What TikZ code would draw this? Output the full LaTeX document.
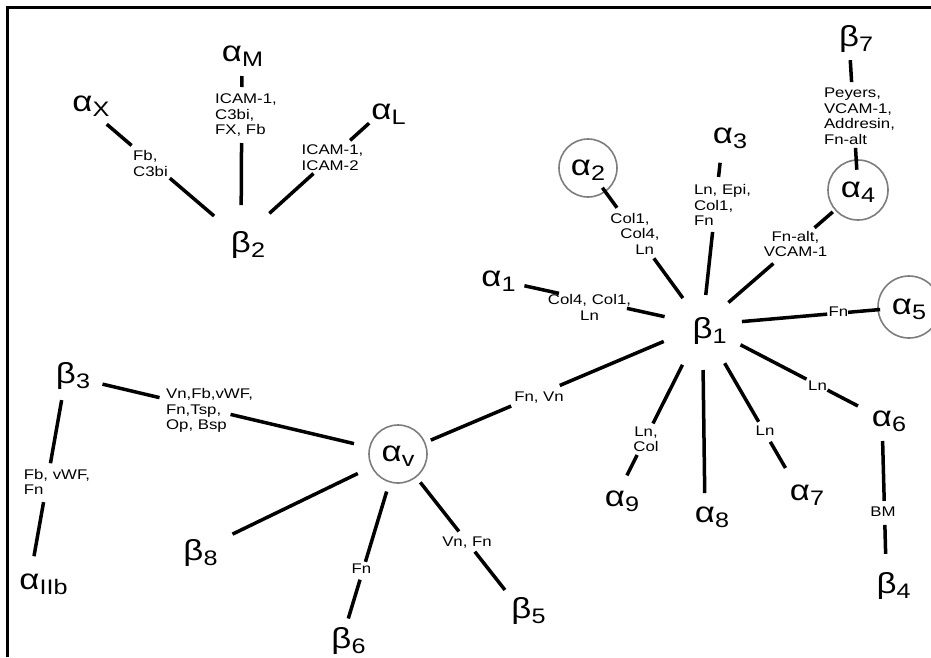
\documentclass[tikz,border=0pt]{standalone}
\usepackage{fontspec}
\usetikzlibrary{calc}
\newfontfamily\gkf[FakeStretch=1.2]{Liberation Sans}
\newcommand\gm[1]{{\gkf\fontsize{29}{30}\selectfont #1}}
\newcommand\gs[1]{\smash{\raisebox{-5pt}{\gkf\fontsize{21}{22}\selectfont #1}}}
\newcommand\gn[2]{\gm{#1}\rlap{\gs{#2}}}
\newcommand\gc[2]{\gm{#1}\gs{#2}}
\definecolor{circgray}{RGB}{125,125,125}
\begin{document}
\begin{tikzpicture}[x=1pt,y=-1pt,
  gk/.style={inner sep=0pt, outer sep=0pt},
  hub/.style={inner sep=0pt, outer sep=0pt, text height=33.4pt, text depth=6pt},
  circ/.style={circle, draw=circgray, line width=1.6pt, inner sep=0pt, minimum size=#1},
  lab/.style={inner sep=0pt, outer sep=0pt, font=\gkf\fontsize{14}{15.5}\selectfont, align=left},
  labc/.style={lab, align=center},
  conn/.style={line width=3.5pt},
  borderline/.style={line width=2.5pt}
]
\useasboundingbox (0,0) rectangle (931,657);
\fill[white] (0,0) rectangle (931,657);
\draw[borderline] (7.5,657) -- (7.5,7.5) -- (931,7.5);

% Greek nodes
\node[gk] (aX) at (82.5,103.5) {\gn{α}{X}};
\node[gk] (aM) at (232,53.5) {\gn{α}{M}};
\node[gk] (aL) at (381.5,112) {\gn{α}{L}};
\node[hub] (b2) at (241,239) {\gn{β}{2}};
\node[gk] (b7) at (849,38.5) {\gn{β}{7}};
\node[circ=60pt] (a4) at (858,190) {\gc{α}{4}};
\node[gk] (a3) at (723,136) {\gn{α}{3}};
\node[circ=58pt] (a2) at (588,168) {\gc{α}{2}};
\node[gk] (a1) at (491.5,278.5) {\gn{α}{1}};
\node[circ=62pt] (a5) at (909,307) {\gc{α}{5}};
\node[hub] (b1) at (702.5,325) {\gn{β}{1}};
\node[gk] (b3) at (66,375.5) {\gn{β}{3}};
\node[circ=58pt] (av) at (398,454) {\gc{α}{v}};
\node[gk] (aIIb) at (29.5,581.5) {\gn{α}{IIb}};
\node[gk] (b8) at (193.5,553) {\gn{β}{8}};
\node[gk] (b6) at (341.5,641) {\gn{β}{6}};
\node[gk] (b5) at (521.5,611) {\gn{β}{5}};
\node[gk] (a9) at (615,499) {\gn{α}{9}};
\node[gk] (a8) at (705,514.5) {\gn{α}{8}};
\node[gk] (a7) at (800,493) {\gn{α}{7}};
\node[gk] (a6) at (882,418.5) {\gn{α}{6}};
\node[gk] (b4) at (886.5,586) {\gn{β}{4}};

% ligand labels
\node[lab] (lXb2) at (150.5,163.5) {Fb,\\C3bi};
\node[lab] (lMb2) at (246,115.5) {ICAM-1,\\C3bi,\\FX, Fb};
\node[lab] (lLb2) at (332.5,157.5) {ICAM-1,\\ICAM-2};
\node[lab] (l74) at (859.5,116) {Peyers,\\VCAM-1,\\Addresin,\\Fn-alt};
\node[lab] (l31) at (722.5,205) {Ln, Epi,\\Col1,\\Fn};
\node[lab] (l21) at (635,233.5) {Col1,\\\hspace*{10pt}Col4,\\\hspace*{25pt}Ln};
\node[labc] (l11) at (589.5,307.5) {Col4, Col1,\\Ln};
\node[labc] (l41) at (795.5,244) {Fn-alt,\\VCAM-1};
\node[lab] (l51) at (838.5,312) {Fn};
\node[lab] (l3v) at (209.5,410.5) {Vn,Fb,vWF,\\Fn,Tsp,\\Op, Bsp};
\node[lab] (l3IIb) at (57,482) {Fb, vWF,\\Fn};
\node[lab] (lv6) at (361.5,569) {Fn};
\node[lab] (lv5) at (467,543) {Vn, Fn};
\node[lab] (lv1) at (539,397.5) {Fn, Vn};
\node[labc] (l19) at (646,439) {Ln,\\Col};
\node[lab] (l17) at (765,431) {Ln};
\node[lab] (l16) at (817.5,385.5) {Ln};
\node[lab] (l64) at (883,512) {BM};

% connectors
\draw[conn] ($(aX)!31.9pt!(b2)$) -- ($(aX)!64.6pt!(b2)$);
\draw[conn] ($(aX)!114.9pt!(b2)$) -- ($(b2)!35.4pt!(aX)$);
\draw[conn] ($(aM.east)!22.5pt!(b2)$) -- ($(aM.east)!33.5pt!(b2)$);
\draw[conn] ($(aM.east)!89.5pt!(b2)$) -- ($(b2)!34pt!(aM.east)$);
\draw[conn] ($(aL)!16.7pt!(b2)$) -- ($(aL)!42.3pt!(b2)$);
\draw[conn] ($(aL)!91.7pt!(b2)$) -- ($(b2)!38.2pt!(aL)$);
\draw[conn] ($(b7)!21.7pt!(a4)$) -- ($(b7)!43.7pt!(a4)$);
\draw[conn] ($(b7)!109.6pt!(a4)$) -- ($(a4)!20.3pt!(b7)$);
\draw[conn] ($(a4)!33.4pt!(b1)$) -- ($(a4)!57.6pt!(b1)$);
\draw[conn] ($(a4)!112.1pt!(b1)$) -- ($(b1)!34.3pt!(a4)$);
\draw[conn] ($(a3)!26.9pt!(b1)$) -- ($(a3)!41.2pt!(b1)$);
\draw[conn] ($(a3)!96.5pt!(b1)$) -- ($(b1)!30.2pt!(a3)$);
\draw[conn] ($(a2)!24.4pt!(b1)$) -- ($(a2)!49.2pt!(b1)$);
\draw[conn] ($(a2)!111.8pt!(b1)$) -- ($(b1)!33.3pt!(a2)$);
\draw[conn] ($(a1)!33.7pt!(b1)$) -- ($(a1)!69.1pt!(b1)$);
\draw[conn] ($(a1)!138.7pt!(b1)$) -- ($(b1)!38.8pt!(a1)$);
\draw[conn] ($(b1)!39.6pt!(a5)$) -- ($(b1)!125.2pt!(a5)$);
\draw[conn] ($(b1)!146.1pt!(a5)$) -- ($(a5)!29pt!(b1)$);
\draw[conn] ($(b1)!45pt!(a8)$) -- ($(a8)!21.5pt!(b1)$);
\draw[conn] ($(b1)!44.5pt!(a9)$) -- ($(b1)!110.2pt!(a9)$);
\draw[conn] ($(b1)!145.5pt!(a9)$) -- ($(a9)!26.5pt!(b1)$);
\draw[conn] ($(b1)!44.2pt!(a7)$) -- ($(b1)!111.9pt!(a7)$);
\draw[conn] ($(b1)!135.1pt!(a7)$) -- ($(a7)!28.9pt!(b1)$);
\draw[conn] ($(b1)!42.9pt!(a6)$) -- ($(b1)!117.2pt!(a6)$);
\draw[conn] ($(b1)!140.9pt!(a6)$) -- ($(a6)!27.1pt!(b1)$);
\draw[conn] ($(av)!35.6pt!(b1)$) -- ($(av)!122.9pt!(b1)$);
\draw[conn] ($(av)!175.7pt!(b1)$) -- ($(b1)!42.1pt!(av)$);
\draw[conn] ($(b3)!37.5pt!(av)$) -- ($(b3)!96.1pt!(av)$);
\draw[conn] ($(b3)!169.1pt!(av)$) -- ($(av)!45.2pt!(b3)$);
\draw[conn] ($(b3)!25pt!(aIIb)$) -- ($(b3)!89.1pt!(aIIb)$);
\draw[conn] ($(b3)!128.6pt!(aIIb)$) -- ($(aIIb)!25.7pt!(b3)$);
\draw[conn] ($(av)!44.7pt!(b8)$) -- ($(b8)!43.3pt!(av)$);
\draw[conn] ($(av)!39.2pt!(b6)$) -- ($(av)!112.6pt!(b6)$);
\draw[conn] ($(av)!131.3pt!(b6)$) -- ($(b6)!23.5pt!(av)$);
\draw[conn] ($(av)!36.1pt!(b5)$) -- ($(av)!98.5pt!(b5)$);
\draw[conn] ($(av)!124.3pt!(b5)$) -- ($(b5)!26.8pt!(av)$);
\draw[conn] ($(a6)!22.5pt!(b4)$) -- ($(a6)!82.5pt!(b4)$);
\draw[conn] ($(a6)!106.5pt!(b4)$) -- ($(b4)!32.1pt!(a6)$);
\end{tikzpicture}
\end{document}
